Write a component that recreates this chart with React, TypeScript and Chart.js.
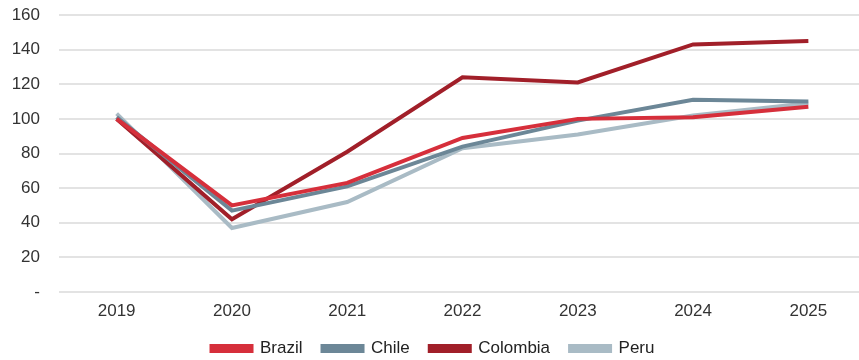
import React, { useEffect, useRef } from "react";
import { Chart, registerables } from "chart.js";

Chart.register(...registerables);

const years = ["2019", "2020", "2021", "2022", "2023", "2024", "2025"];
const brazil = [100, 50, 63, 89, 100, 101, 107];
const chile = [101, 47, 61, 84, 99, 111, 110];
const colombia = [100, 42, 81, 124, 121, 143, 145];
const peru = [103, 37, 52, 83, 91, 102, 109];

export default function App() {
  const ref = useRef<HTMLCanvasElement | null>(null);
  useEffect(() => {
    document.body.style.margin = "0";
    const canvas = ref.current!;
    const font = { family: "'Liberation Sans', Arial, sans-serif", size: 17, lineHeight: 1 };
    const mk = (label: string, data: number[], color: string) => ({
      label,
      data,
      borderColor: color,
      backgroundColor: color,
      borderWidth: 4,
      pointRadius: 0,
      tension: 0,
      fill: false,
    });
    const chart = new Chart(canvas, {
      type: "line",
      data: {
        labels: years,
        datasets: [
          mk("Brazil", brazil, "#d62f3b"),
          mk("Chile", chile, "#6c8797"),
          mk("Colombia", colombia, "#a11f29"),
          mk("Peru", peru, "#a9bbc5"),
        ],
      },
      options: {
        responsive: false,
        animation: false,
        layout: { padding: { top: 15, left: 0, right: 0, bottom: 0 } },
        plugins: {
          tooltip: { enabled: false },
          legend: {
            position: "bottom",
            labels: {
              color: "#222",
              font,
              boxWidth: 40,
              boxHeight: 5,
              padding: 20,
            },
          },
        },
        scales: {
          x: {
            offset: true,
            grid: { display: false, drawTicks: false, offset: true },
            border: { display: false },
            ticks: { color: "#333", font, padding: 11 },
            afterFit: (s: any) => {
              s.height = 28;
            },
          },
          y: {
            min: 0,
            max: 160,
            grid: {
              color: "#e3e3e3",
              lineWidth: 2,
              drawTicks: true,
              tickLength: 19,
              tickColor: "rgba(0,0,0,0)",
            },
            border: { display: false },
            ticks: {
              stepSize: 20,
              color: "#333",
              font,
              padding: 0,
              callback: (v: any) => (Number(v) === 0 ? "-" : String(v)),
            },
            afterFit: (s: any) => {
              s.width = 59;
            },
          },
        },
      },
    });
    return () => chart.destroy();
  }, []);
  return (
    <div style={{ width: 859, height: 360, overflow: "hidden", background: "#fff" }}>
      <canvas ref={ref} width={866} height={367} style={{ display: "block" }} />
    </div>
  );
}
